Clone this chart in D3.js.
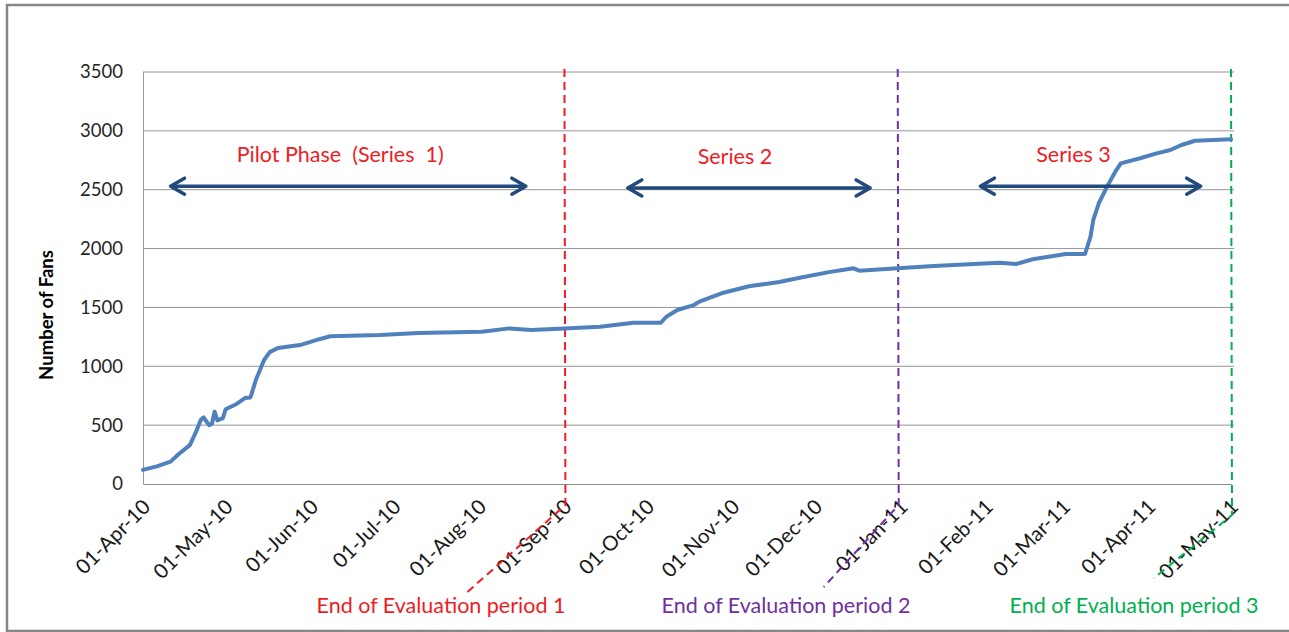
<!DOCTYPE html>
<html>
<head>
<meta charset="utf-8">
<script src="https://cdn.jsdelivr.net/npm/d3@7"></script>
<style>
  html, body { margin: 0; padding: 0; background: #fff; }
  svg { display: block; font-family: Lato, "Open Sans", sans-serif; }
  text { white-space: pre; }
</style>
</head>
<body>
<svg id="chart" width="1289" height="632"></svg>
<script>
// Daily fan count (sampled), April 2010 – May 2011
const fanDates = [
  "2010-04-01","2010-04-06","2010-04-11","2010-04-14","2010-04-18","2010-04-20",
  "2010-04-22","2010-04-23","2010-04-25","2010-04-26","2010-04-27","2010-04-28",
  "2010-04-30","2010-05-01","2010-05-05","2010-05-08","2010-05-10","2010-05-12",
  "2010-05-15","2010-05-17","2010-05-20","2010-05-28","2010-06-04","2010-06-08",
  "2010-06-26","2010-07-10","2010-08-02","2010-08-12","2010-08-20","2010-09-01",
  "2010-09-14","2010-09-26","2010-10-06","2010-10-08","2010-10-12","2010-10-18",
  "2010-10-20","2010-10-28","2010-11-07","2010-11-18","2010-11-25","2010-12-06",
  "2010-12-15","2010-12-17","2010-12-31","2011-01-13","2011-02-06","2011-02-12",
  "2011-02-18","2011-03-02","2011-03-09","2011-03-11","2011-03-12","2011-03-14",
  "2011-03-17","2011-03-20","2011-03-22","2011-03-29","2011-04-04","2011-04-09",
  "2011-04-13","2011-04-18","2011-05-01"
];
const fanCounts = [
  120, 150, 190, 255, 330, 430,
  545, 565, 500, 510, 615, 540,
  560, 635, 680, 730, 735, 885,
  1055, 1120, 1155, 1180, 1230, 1255,
  1265, 1283, 1294, 1322, 1308, 1322,
  1336, 1370, 1370, 1421, 1478, 1520,
  1549, 1620, 1680, 1716, 1750, 1800,
  1832, 1812, 1832, 1852, 1880, 1869,
  1909, 1954, 1954, 2101, 2243, 2385,
  2526, 2653, 2724, 2767, 2809, 2837,
  2880, 2916, 2928
];

// Axis ticks
const yTicks = [0, 500, 1000, 1500, 2000, 2500, 3000, 3500];
const monthTicks = [
  "2010-04-01","2010-05-01","2010-06-01","2010-07-01","2010-08-01","2010-09-01",
  "2010-10-01","2010-11-01","2010-12-01","2011-01-01","2011-02-01","2011-03-01",
  "2011-04-01","2011-05-01"
];

// Phase annotations: label, arrow span and arrow level
const phaseLabels = ["Pilot Phase  (Series  1)", "Series 2", "Series 3"];
const phaseStarts = ["2010-04-11", "2010-09-24", "2011-01-30"];
const phaseEnds   = ["2010-08-18", "2010-12-21", "2011-04-20"];
const phaseLevel  = [2530, 2515, 2530];

// End-of-evaluation markers
const evalLabels = ["End of Evaluation period 1", "End of Evaluation period 2", "End of Evaluation period 3"];
const evalDates  = ["2010-09-01", "2010-12-31", "2011-05-01"];
const evalColors = ["#ee1c25", "#7030a0", "#00b050"];

const parse = d3.timeParse("%Y-%m-%d");
const series = fanDates.map((d, i) => ({ date: parse(d), value: fanCounts[i] }));

const svg = d3.select("#chart");
const plotLeft = 143, plotRight = 1231, plotTop = 72, plotBottom = 484;

const x = d3.scaleTime()
  .domain([parse("2010-04-01"), parse("2011-05-01")])
  .range([plotLeft, plotRight]);
const y = d3.scaleLinear().domain([0, 3500]).range([plotBottom, plotTop]);

// outer frame
svg.append("rect")
  .attr("x", 7).attr("y", 5).attr("width", 1300).attr("height", 626)
  .attr("fill", "none").attr("stroke", "#878787").attr("stroke-width", 2.5);

// horizontal gridlines
svg.append("g")
  .selectAll("line")
  .data(yTicks.filter(v => v > 0))
  .join("line")
  .attr("x1", plotLeft).attr("x2", plotRight + 3)
  .attr("y1", d => y(d)).attr("y2", d => y(d))
  .attr("stroke", "#969696").attr("stroke-width", 1);

// y axis
const yAxis = d3.axisLeft(y).tickValues(yTicks).tickSize(0).tickPadding(20).tickFormat(d3.format("d"));
const gy = svg.append("g").attr("transform", `translate(${plotLeft},0)`).call(yAxis);
gy.select(".domain").attr("stroke", "#969696");
gy.selectAll("text")
  .attr("font-family", "Lato, sans-serif").attr("font-size", 18.5).attr("fill", "#262626");

// x axis
const xAxis = d3.axisBottom(x).tickValues(monthTicks.map(parse)).tickSize(0)
  .tickFormat(d3.timeFormat("%d-%b-%y"));
const gx = svg.append("g").attr("transform", `translate(0,${plotBottom})`).call(xAxis);
gx.select(".domain").attr("stroke", "#8a8a8a").attr("stroke-width", 1.2);
gx.selectAll("text")
  .attr("font-family", "Lato, sans-serif").attr("font-size", 20.5).attr("fill", "#1a1a1a")
  .attr("text-anchor", "end")
  .attr("dy", "0.35em")
  .attr("transform", "translate(3,19) rotate(-45)")
  .attr("y", 0);

// y axis title
svg.append("text")
  .attr("transform", `translate(53,${(plotTop + plotBottom) / 2 + 37}) rotate(-90)`)
  .attr("text-anchor", "middle")
  .attr("font-family", "Lato, sans-serif").attr("font-weight", "bold").attr("font-size", 18.5)
  .attr("fill", "#000")
  .text("Number of Fans");

// end-of-evaluation dashed markers with leaders to their captions
const leaderDx = [-98, -75, -78];
const leaderDy = [87, 82, 63];
const leaderStart = [505, 505, 515];
evalDates.forEach((d, i) => {
  const xv = x(parse(d));
  const path = d3.path();
  path.moveTo(xv, plotTop - 3);
  path.lineTo(xv + 1, leaderStart[i]);
  path.lineTo(xv + 1 + leaderDx[i], leaderStart[i] + leaderDy[i]);
  svg.append("path")
    .attr("d", path.toString())
    .attr("fill", "none")
    .attr("stroke", evalColors[i]).attr("stroke-width", 2)
    .attr("stroke-dasharray", "8,5");
});

// fan count line
svg.append("path")
  .datum(series)
  .attr("fill", "none")
  .attr("stroke", "#4f81bd")
  .attr("stroke-width", 4)
  .attr("stroke-linejoin", "round")
  .attr("stroke-linecap", "round")
  .attr("d", d3.line().x(d => x(d.date)).y(d => y(d.value)));

// evaluation captions
const captionX = [441, 786, 1134];
evalLabels.forEach((t, i) => {
  svg.append("text")
    .attr("x", captionX[i]).attr("y", 613)
    .attr("text-anchor", "middle")
    .attr("font-family", "Lato, sans-serif").attr("font-size", 21.5)
    .attr("fill", evalColors[i])
    .text(t);
});

// phase arrows and labels
const arrowColor = "#234a7c";
const labelShift = [-8, -14, -17];
phaseLabels.forEach((t, i) => {
  const x1 = x(parse(phaseStarts[i])), x2 = x(parse(phaseEnds[i]));
  const yy = y(phaseLevel[i]);
  const g = svg.append("g").attr("fill", "none").attr("stroke", arrowColor)
    .attr("stroke-width", 3.5).attr("stroke-linecap", "round").attr("stroke-linejoin", "round");
  g.append("line").attr("x1", x1 + 1).attr("x2", x2 - 1).attr("y1", yy).attr("y2", yy);
  g.append("path").attr("d", `M${x1 + 14},${yy - 8} L${x1},${yy} L${x1 + 14},${yy + 8}`);
  g.append("path").attr("d", `M${x2 - 14},${yy - 8} L${x2},${yy} L${x2 - 14},${yy + 8}`);
  svg.append("text")
    .attr("x", (x1 + x2) / 2 + labelShift[i])
    .attr("y", yy - 24)
    .attr("text-anchor", "middle")
    .attr("font-family", "Lato, sans-serif").attr("font-size", 21.5)
    .attr("fill", "#ee1c25")
    .text(t);
});
</script>
</body>
</html>
